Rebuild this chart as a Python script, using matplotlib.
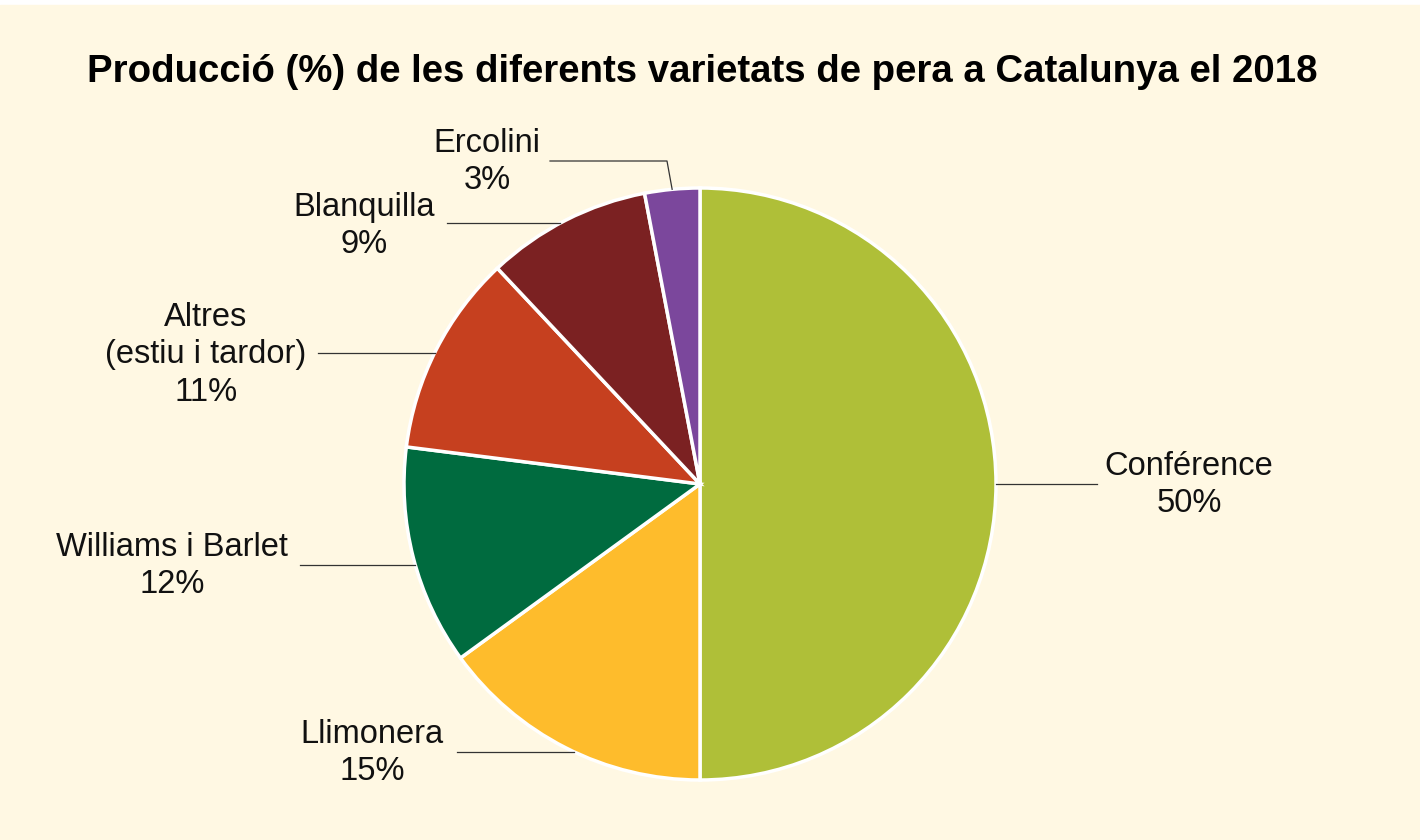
import numpy as np
import matplotlib
matplotlib.use("Agg")
import matplotlib.pyplot as plt

# production share of pear varieties, Catalonia 2018
varieties = ["Conférence", "Llimonera", "Williams i Barlet",
             "Altres\n(estiu i tardor)", "Blanquilla", "Ercolini"]
shares = [50, 15, 12, 11, 9, 3]
colors = ["#AFBF38", "#FEBC2C", "#006B3F", "#C6401F", "#7B2122", "#7B479C"]

# label block centres (pixels, y from top) and leader line elbows
label_pos = [(1189, 485), (372, 753), (172, 566), (206, 355), (364, 226), (487, 162)]
line_end = [(1097, 484), (457, 752), (300, 565), (318, 353), (447, 223), (550, 161)]

W, H = 1420, 840
bg = "#FFF8E3"

plt.rcParams['font.family'] = ['Liberation Sans', 'DejaVu Sans']

fig = plt.figure(figsize=(W / 100, H / 100), dpi=100)
fig.patch.set_facecolor("white")
ax = fig.add_axes([0, 0, 1, 1])
ax.set_xlim(0, W)
ax.set_ylim(0, H)
ax.set_aspect("equal")
ax.axis("off")
# cream panel (white strip on top)
ax.add_patch(plt.Rectangle((0, 0), W, H - 5, color=bg, zorder=0))

cx, cy, r = 700, H - 484, 296
wedges, _ = ax.pie(shares, colors=colors, startangle=90, counterclock=False,
                   center=(cx, cy), radius=r,
                   wedgeprops=dict(edgecolor="white", linewidth=2.5))
ax.set_xlim(0, W)
ax.set_ylim(0, H)

for i, w in enumerate(wedges):
    ex, ey = line_end[i]
    ey = H - ey
    if i == len(wedges) - 1:
        # Ercolini: elbow line down to the slice top
        ang = np.deg2rad(w.theta1 + (w.theta2 - w.theta1) * 0.5)
        px, py = cx + r * np.cos(ang), cy + r * np.sin(ang)
        ax.plot([ex, 667, px], [ey, ey, py], color="#333333", lw=0.9, zorder=3)
    else:
        # horizontal leader to the pie edge at the same height
        dy = ey - cy
        dx = np.sqrt(r ** 2 - dy ** 2)
        px = cx + dx if ex > cx else cx - dx
        ax.plot([ex, px], [ey, ey], color="#333333", lw=0.9, zorder=3)
    lx, ly = label_pos[i]
    ax.text(lx, H - ly, f"{varieties[i]}\n{shares[i]}%", ha="center", va="center",
            fontsize=23.5, color="#111111", linespacing=1.28)

ax.text(W / 2 - 8, H - 72, "Producció (%) de les diferents varietats de pera a Catalunya el 2018",
        ha="center", va="center", fontsize=27.6, fontweight="bold", color="black")

fig.savefig("out.png", dpi=100, facecolor=fig.get_facecolor())
